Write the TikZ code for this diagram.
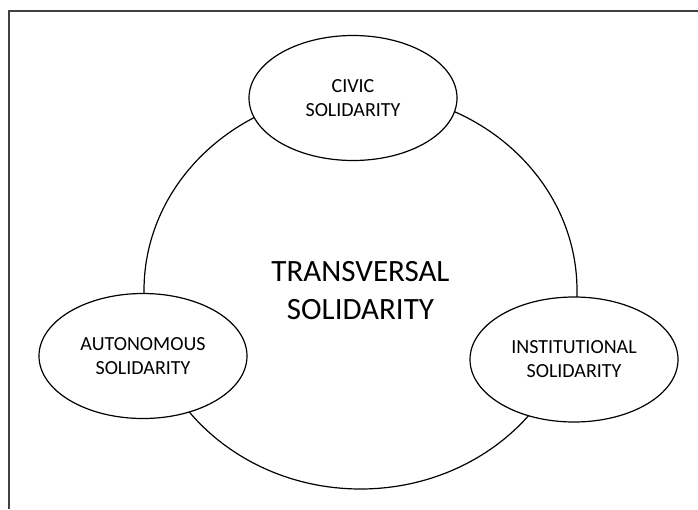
\documentclass[tikz,border=0pt]{standalone}
\usepackage{fontspec}
\setmainfont{Carlito}
\usetikzlibrary{shapes.geometric}

\begin{document}
\begin{tikzpicture}[x=1pt,y=-1pt,semithick,
    sol/.style={ellipse,draw,line width=1.2pt,fill=white,inner sep=0pt,
        minimum width=208pt,minimum height=125pt,align=center,
        font=\fontsize{20}{24}\selectfont}]
    \useasboundingbox (0,0) rectangle (698,509);
    \draw [line width=1.6pt,black!75] (698,11) -- (9,11) -- (9,509);

    \node [ellipse,draw,line width=1.2pt,minimum width=433pt,minimum height=397pt,
           align=center,font=\fontsize{31}{38}\selectfont] (trans) at (360.5,290.5) {TRANSVERSAL\\SOLIDARITY};
    \node [sol] (civic) at (353,98)    {CIVIC\\SOLIDARITY};
    \node [sol] (auto)  at (143,356)   {AUTONOMOUS\\SOLIDARITY};
    \node [sol] (inst)  at (574,359.5) {INSTITUTIONAL\\SOLIDARITY};
\end{tikzpicture}
\end{document}
